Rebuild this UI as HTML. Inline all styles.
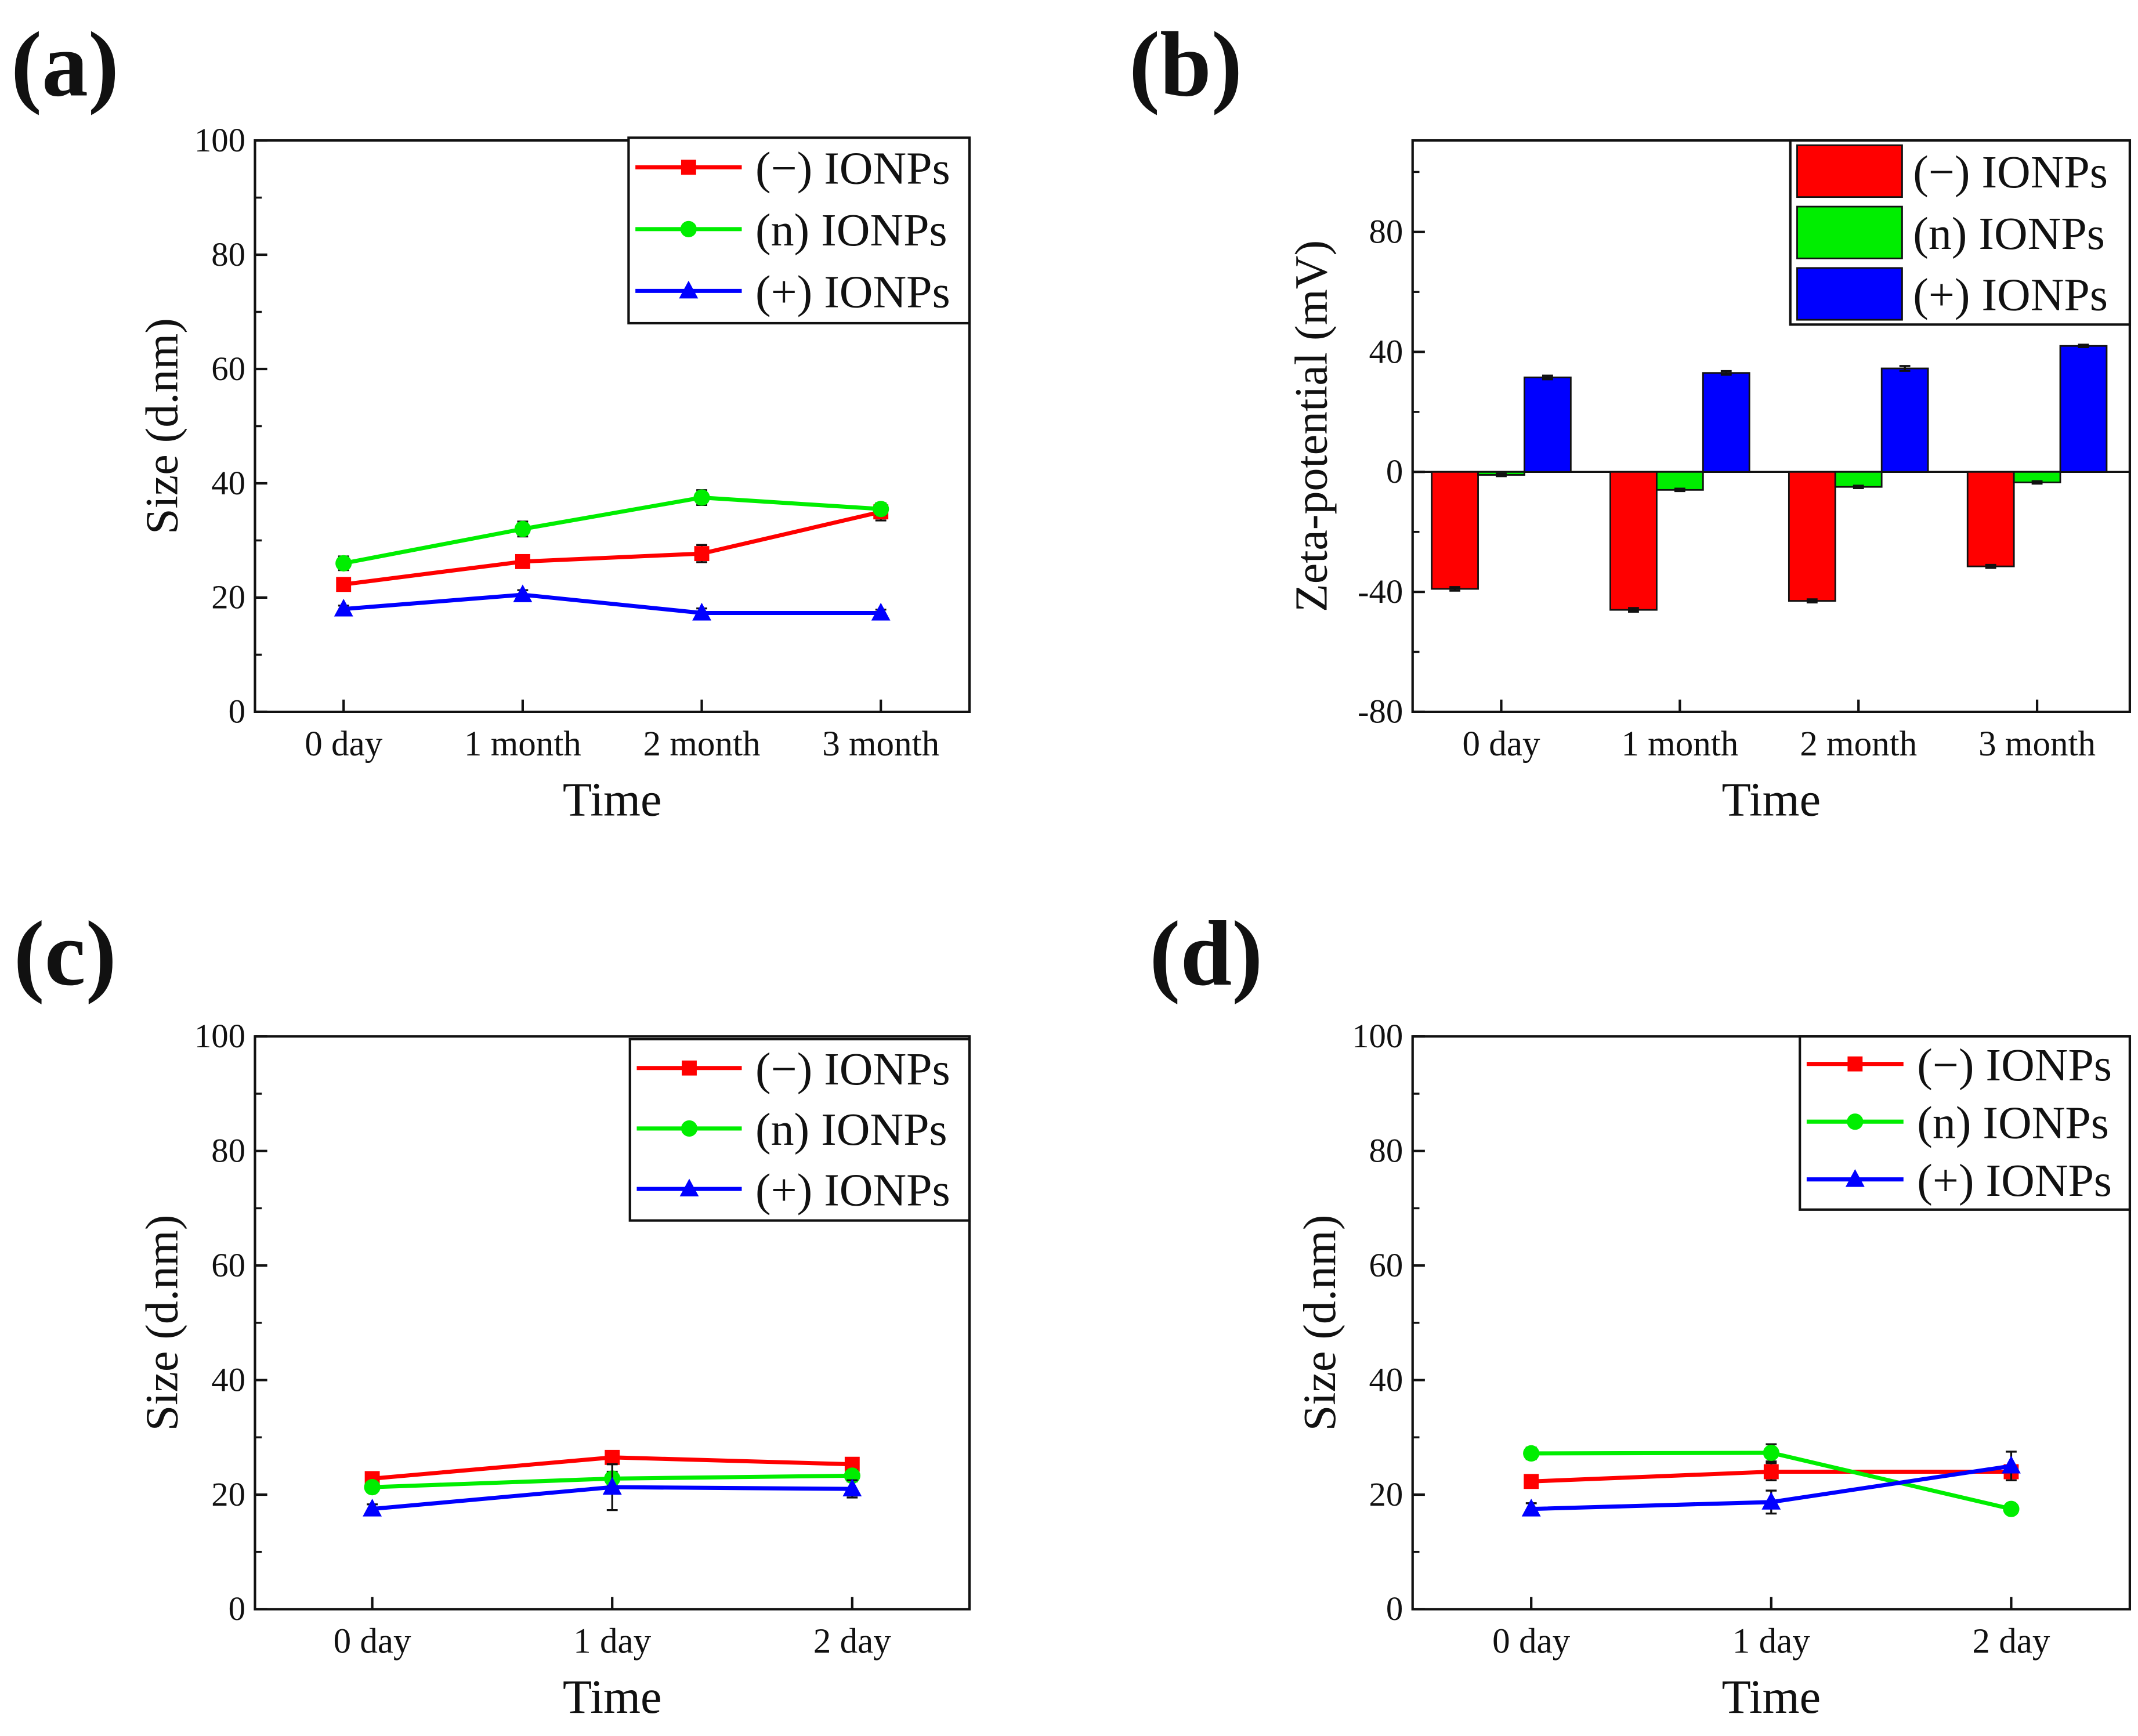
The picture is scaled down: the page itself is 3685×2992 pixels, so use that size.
<!DOCTYPE html>
<html><head><meta charset="utf-8"><style>
html,body{margin:0;padding:0;background:#fff}
svg{display:block}
text{font-family:"Liberation Serif",serif;fill:#111}
</style></head><body>
<svg id="fig" width="3685" height="2992" viewBox="0 0 1568 1273" preserveAspectRatio="none" xmlns="http://www.w3.org/2000/svg">
<rect width="1568" height="1273" fill="#fff"/>
<text x="8" y="70" font-size="68" font-weight="bold">(a)</text>
<text x="828" y="70" font-size="68" font-weight="bold">(b)</text>
<text x="10" y="722" font-size="68" font-weight="bold">(c)</text>
<text x="843" y="722" font-size="68" font-weight="bold">(d)</text>
</svg>
<script>
const NS="http://www.w3.org/2000/svg";
const svg=document.getElementById('fig');
const COLORS=['#ff0000','#00ee00','#0000ff'];
const SERIES_NAMES=['(\u2212) IONPs','(n) IONPs','(+) IONPs'];

// Panel (a) data
const catsA=['0 day','1 month','2 month','3 month'];
const redA=[22.3,26.3,27.7,35.0];
const greenA=[26.0,32.0,37.5,35.5];
const blueA=[18.0,20.5,17.3,17.3];
const errRedA=[1.0,1.0,1.5,1.5];
const errGreenA=[1.2,1.3,1.3,1.0];
const errBlueA=[0.6,0.8,0.8,0.6];
// Panel (b) data
const catsB=['0 day','1 month','2 month','3 month'];
const redB=[-39,-46,-43,-31.5];
const greenB=[-1,-6,-5,-3.5];
const blueB=[31.5,33,34.5,42];
const errRedB=[0.6,0.6,0.5,0.5];
const errGreenB=[0.4,0.4,0.4,0.4];
const errBlueB=[0.6,0.6,0.8,0.4];
const ticksB=[-80,-40,0,40,80];
// Panel (c) data
const catsC=['0 day','1 day','2 day'];
const redC=[22.8,26.5,25.3];
const greenC=[21.3,22.8,23.3];
const blueC=[17.5,21.3,21.0];
const errRedC=[0.8,0.8,0.8];
const errGreenC=[0.8,1.2,1.0];
const errBlueC=[0.8,4.0,1.5];
// Panel (d) data
const catsD=['0 day','1 day','2 day'];
const redD=[22.3,24.0,24.0];
const greenD=[27.2,27.3,17.5];
const blueD=[17.5,18.7,25.0];
const errRedD=[1.0,1.5,1.0];
const errGreenD=[1.0,1.5,0.6];
const errBlueD=[1.0,2.0,2.5];
const ticksSize=[0,20,40,60,80,100];

function el(tag,attrs,parent){const e=document.createElementNS(NS,tag);for(const k in attrs)e.setAttribute(k,attrs[k]);(parent||svg).appendChild(e);return e;}
function txt(x,y,s,size,anchor,parent){const t=el('text',{x:x,y:y,'font-size':size,'text-anchor':anchor||'middle'},parent);t.textContent=s;return t;}

function axesFrame(L,R,T,B,ymin,ymax,ticks,cats,xpos,ytitle,ytitleX,name){
  const g=el('g',{});
  
  
  const ys=v=>B-(v-ymin)/(ymax-ymin)*(B-T);
  el('rect',{x:L,y:T,width:R-L,height:B-T,fill:'none',stroke:'#111','stroke-width':1.8},g);
  ticks.forEach((v,i)=>{
    const y=ys(v);
    el('line',{x1:L,x2:L+9,y1:y,y2:y,stroke:'#111','stroke-width':1.8},g);
    const lab=txt(L-7,y+8,String(v),25,'end',g);
    
    
    if(i<ticks.length-1){const m=ys((v+ticks[i+1])/2);el('line',{x1:L,x2:L+5,y1:m,y2:m,stroke:'#111','stroke-width':1.5},g);}
  });
  if(ys(ymax)<ys(ticks[ticks.length-1])-20){const v=ticks[ticks.length-1]+(ticks[1]-ticks[0])/2;el('line',{x1:L,x2:L+5,y1:ys(v),y2:ys(v),stroke:'#111','stroke-width':1.5},g);}
  cats.forEach((c,i)=>{
    const x=xpos(i);
    el('line',{x1:x,x2:x,y1:B,y2:B-9,stroke:'#111','stroke-width':1.8},g);
    const lab=txt(x,B+32,c,26,'middle',g);
    
    
  });
  const xt=txt((L+R)/2,B+76,'Time',35,'middle',g);
  
  
  const yt=txt(0,0,ytitle,34,'middle',g);
  yt.setAttribute('transform','translate('+ytitleX+','+((T+B)/2)+') rotate(-90)');
  
  
  return {g,ys};
}

function marker(kind,x,y,color,g){
  if(kind===0)return el('rect',{x:x-5.5,y:y-5.5,width:11,height:11,fill:color},g);
  if(kind===1)return el('circle',{cx:x,cy:y,r:6,fill:color},g);
  return el('polygon',{points:(x)+','+(y-7.5)+' '+(x-7)+','+(y+5.5)+' '+(x+7)+','+(y+5.5),fill:color},g);
}

function linePanel(L,R,T,B,cats,pad,series,errs,name,legend,ltx){
  const n=cats.length;
  const xpos=i=>L+pad+i*(R-L-2*pad)/(n-1);
  const {g,ys}=axesFrame(L,R,T,B,0,100,ticksSize,cats,xpos,'Size (d.nm)',L-57,name);
  series.forEach((vals,s)=>{
    const sg=el('g',{},g);
    
    
    el('polyline',{points:vals.map((v,i)=>xpos(i)+','+ys(v)).join(' '),fill:'none',stroke:COLORS[s],'stroke-width':3},sg);
    vals.forEach((v,i)=>{
      const x=xpos(i),e=errs[s][i];
      const eb=el('path',{d:'M'+x+' '+ys(v+e)+'V'+ys(v-e)+'M'+(x-4)+' '+ys(v+e)+'h8M'+(x-4)+' '+ys(v-e)+'h8',stroke:'#111','stroke-width':1.4,fill:'none'},sg);
      
      
      const m=marker(s,x,ys(v),COLORS[s],sg);
      
      
    });
  });
  const [lx,ly,lw,lh]=legend;
  const lg=el('g',{},g);
  
  
  el('rect',{x:lx,y:ly,width:lw,height:lh,fill:'#fff',stroke:'#111','stroke-width':1.8},lg);
  const rh=lh/3;
  SERIES_NAMES.forEach((nm,s)=>{
    const cy=ly+rh*(s+0.5)-1;
    const e=el('g',{},lg);
    
    
    el('line',{x1:lx+5,x2:lx+ltx-10,y1:cy,y2:cy,stroke:COLORS[s],'stroke-width':3},e);
    marker(s,lx+(ltx-5)/2,cy,COLORS[s],e);
    txt(lx+ltx,cy+12,nm,34,'start',e);
  });
}

linePanel(187,711,103,522,catsA,65,[redA,greenA,blueA],[errRedA,errGreenA,errBlueA],'chart-a',[461,101,250,136],93);
linePanel(187,711,760,1180,catsC,86,[redC,greenC,blueC],[errRedC,errGreenC,errBlueC],'chart-c',[462,762,249,133],92);
linePanel(1036,1562,760,1180,catsD,87,[redD,greenD,blueD],[errRedD,errGreenD,errBlueD],'chart-d',[1320,760,242,127],86);

// Panel (b) bar chart
(function(){
  const L=1036,R=1562,T=103,B=522,ymin=-80,ymax=110.5;
  const xpos=i=>L+65+i*131;
  const {g,ys}=axesFrame(L,R,T,B,ymin,ymax,ticksB,catsB,xpos,'Zeta-potential (mV)',L-63,'chart-b');
  el('line',{x1:L,x2:R,y1:ys(0),y2:ys(0),stroke:'#111','stroke-width':1.4},g);
  const series=[redB,greenB,blueB],errs=[errRedB,errGreenB,errBlueB],bw=34;
  series.forEach((vals,s)=>{
    vals.forEach((v,i)=>{
      const cx=xpos(i)+(s-1)*bw;
      const y0=ys(0),y1=ys(v);
      const r=el('rect',{x:cx-bw/2,y:Math.min(y0,y1),width:bw,height:Math.abs(y1-y0),fill:COLORS[s],stroke:'#111','stroke-width':1.2},g);
      
      
      const e=errs[s][i];
      el('path',{d:'M'+cx+' '+ys(v+e)+'V'+ys(v-e)+'M'+(cx-4)+' '+ys(v+e)+'h8M'+(cx-4)+' '+ys(v-e)+'h8',stroke:'#111','stroke-width':1.5,fill:'none'},g);
    });
  });
  const lx=1313,ly=103,lw=249,lh=135,rh=lh/3;
  const lg=el('g',{},g);
  
  
  el('rect',{x:lx,y:ly,width:lw,height:lh,fill:'#fff',stroke:'#111','stroke-width':1.8},lg);
  SERIES_NAMES.forEach((nm,s)=>{
    const cy=ly+rh*(s+0.5);
    const e=el('g',{},lg);
    
    
    el('rect',{x:lx+5,y:cy-19,width:77,height:38,fill:COLORS[s],stroke:'#111','stroke-width':1.2},e);
    txt(lx+90,cy+12,nm,34,'start',e);
  });
})();
</script>
</body></html>
